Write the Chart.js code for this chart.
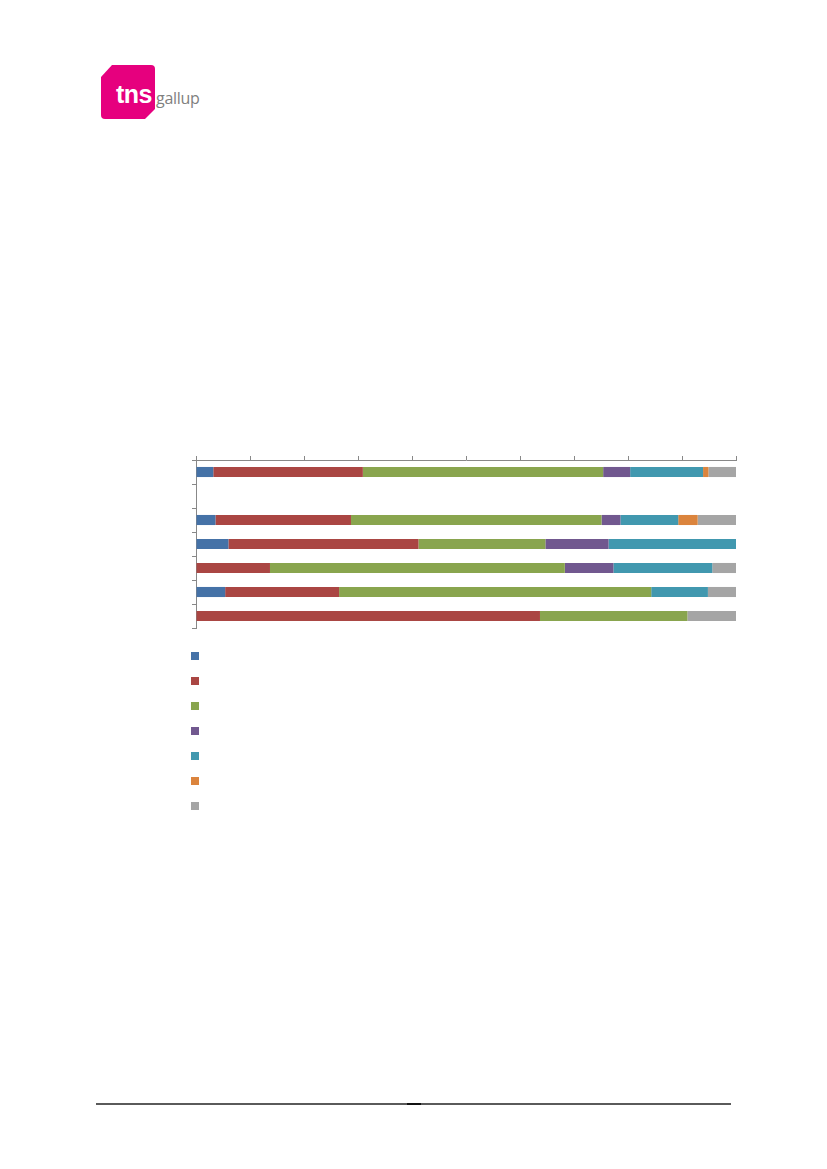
<!DOCTYPE html>
<html lang="en">
<head>
    <meta charset="UTF-8">
    <title>Stacked shares</title>
    <script src="https://cdn.jsdelivr.net/npm/chart.js"></script>
    <style>
        body, html {
            margin: 0;
            padding: 0;
            width: 827px;
            height: 1169px;
            overflow: hidden;
            background: #fff;
            font-family: Arial, "Liberation Sans", sans-serif;
        }
        #wrap {
            position: absolute;
            left: 0;
            top: 0;
            width: 827px;
            height: 1169px;
        }
        #logo {
            position: absolute;
            left: 0;
            top: 0;
        }
        .rule {
            position: absolute;
            left: 96px;
            top: 1103px;
            width: 635px;
            height: 2px;
            background: #5a5a5a;
        }
        .rule-mark {
            position: absolute;
            left: 407px;
            top: 1103px;
            width: 14px;
            height: 2px;
            background: #111;
        }
    </style>
</head>
<body>
    <svg id="logo" width="220" height="140" xmlns="http://www.w3.org/2000/svg">
        <path d="M101 77 L112 65 L151 65 Q155 65 155 69 L155 109 L145 119 L105 119 Q101 119 101 115 Z" fill="#e6007e"/>
        <text x="116" y="103" font-family="Arial, Liberation Sans, sans-serif" font-weight="bold" font-size="25" fill="#fff" letter-spacing="-0.5">tns</text>
        <text x="156" y="104" font-family="Open Sans, Arial, sans-serif" font-size="16" fill="#808080" letter-spacing="-0.3">gallup</text>
    </svg>
    <div id="wrap"><canvas id="shareChart" width="827" height="1169"></canvas></div>
    <div class="rule"></div>
    <div class="rule-mark"></div>

    <script>
        // rows from top to bottom; row 2 is empty in the original
        const rows = ["Row 1", "Row 2", "Row 3", "Row 4", "Row 5", "Row 6", "Row 7"];
        const xTicks = [0, 10, 20, 30, 40, 50, 60, 70, 80, 90, 100];

        const seriesNames = ["S1", "S2", "S3", "S4", "S5", "S6", "S7"];
        const s1 = [3.2, null, 3.6, 6.0, 0, 5.4, 0];
        const s2 = [27.7, null, 25.1, 35.2, 13.7, 21.1, 63.7];
        const s3 = [44.5, null, 46.4, 23.5, 54.6, 57.8, 27.3];
        const s4 = [5.0, null, 3.5, 11.7, 9.0, 0, 0];
        const s5 = [13.5, null, 10.7, 23.6, 18.3, 10.5, 0];
        const s6 = [1.0, null, 3.6, 0, 0, 0, 0];
        const s7 = [5.1, null, 7.1, 0, 4.4, 5.2, 9.0];

        const colors = ['#4572a7', '#aa4643', '#89a54e', '#71588f', '#4198af', '#db843d', '#a5a5a5'];
        const allSeries = [s1, s2, s3, s4, s5, s6, s7];

        // vertical legend of coloured squares below the plot (no text in the source)
        const squareLegend = {
            id: 'squareLegend',
            afterDraw(chart) {
                const c = chart.ctx;
                const left = chart.chartArea.left - 5;
                const top0 = chart.chartArea.bottom + 24;
                chart.data.datasets.forEach((ds, i) => {
                    c.fillStyle = ds.backgroundColor;
                    c.fillRect(left, top0 + i * 25, 8, 8);
                });
            }
        };

        const ctx = document.getElementById('shareChart').getContext('2d');
        new Chart(ctx, {
            type: 'bar',
            data: {
                labels: rows,
                datasets: allSeries.map((d, i) => ({
                    label: seriesNames[i],
                    data: d,
                    backgroundColor: colors[i],
                    borderWidth: 0,
                    barPercentage: 0.42,
                    categoryPercentage: 1
                }))
            },
            options: {
                indexAxis: 'y',
                responsive: false,
                animation: false,
                layout: { padding: { left: 192, right: 91, top: 456, bottom: 541 } },
                scales: {
                    x: {
                        position: 'top',
                        stacked: true,
                        min: 0,
                        max: 100,
                        afterBuildTicks: axis => { axis.ticks = xTicks.map(v => ({ value: v })); },
                        ticks: { display: false },
                        grid: { drawOnChartArea: false, drawTicks: true, tickLength: 4, color: '#888' },
                        border: { color: '#888', width: 1 }
                    },
                    y: {
                        stacked: true,
                        ticks: { display: false },
                        grid: { drawOnChartArea: false, drawTicks: true, tickLength: 4, color: '#888', offset: true },
                        border: { color: '#888', width: 1 }
                    }
                },
                plugins: {
                    legend: { display: false },
                    tooltip: { enabled: false }
                }
            },
            plugins: [squareLegend]
        });
    </script>
</body>
</html>
